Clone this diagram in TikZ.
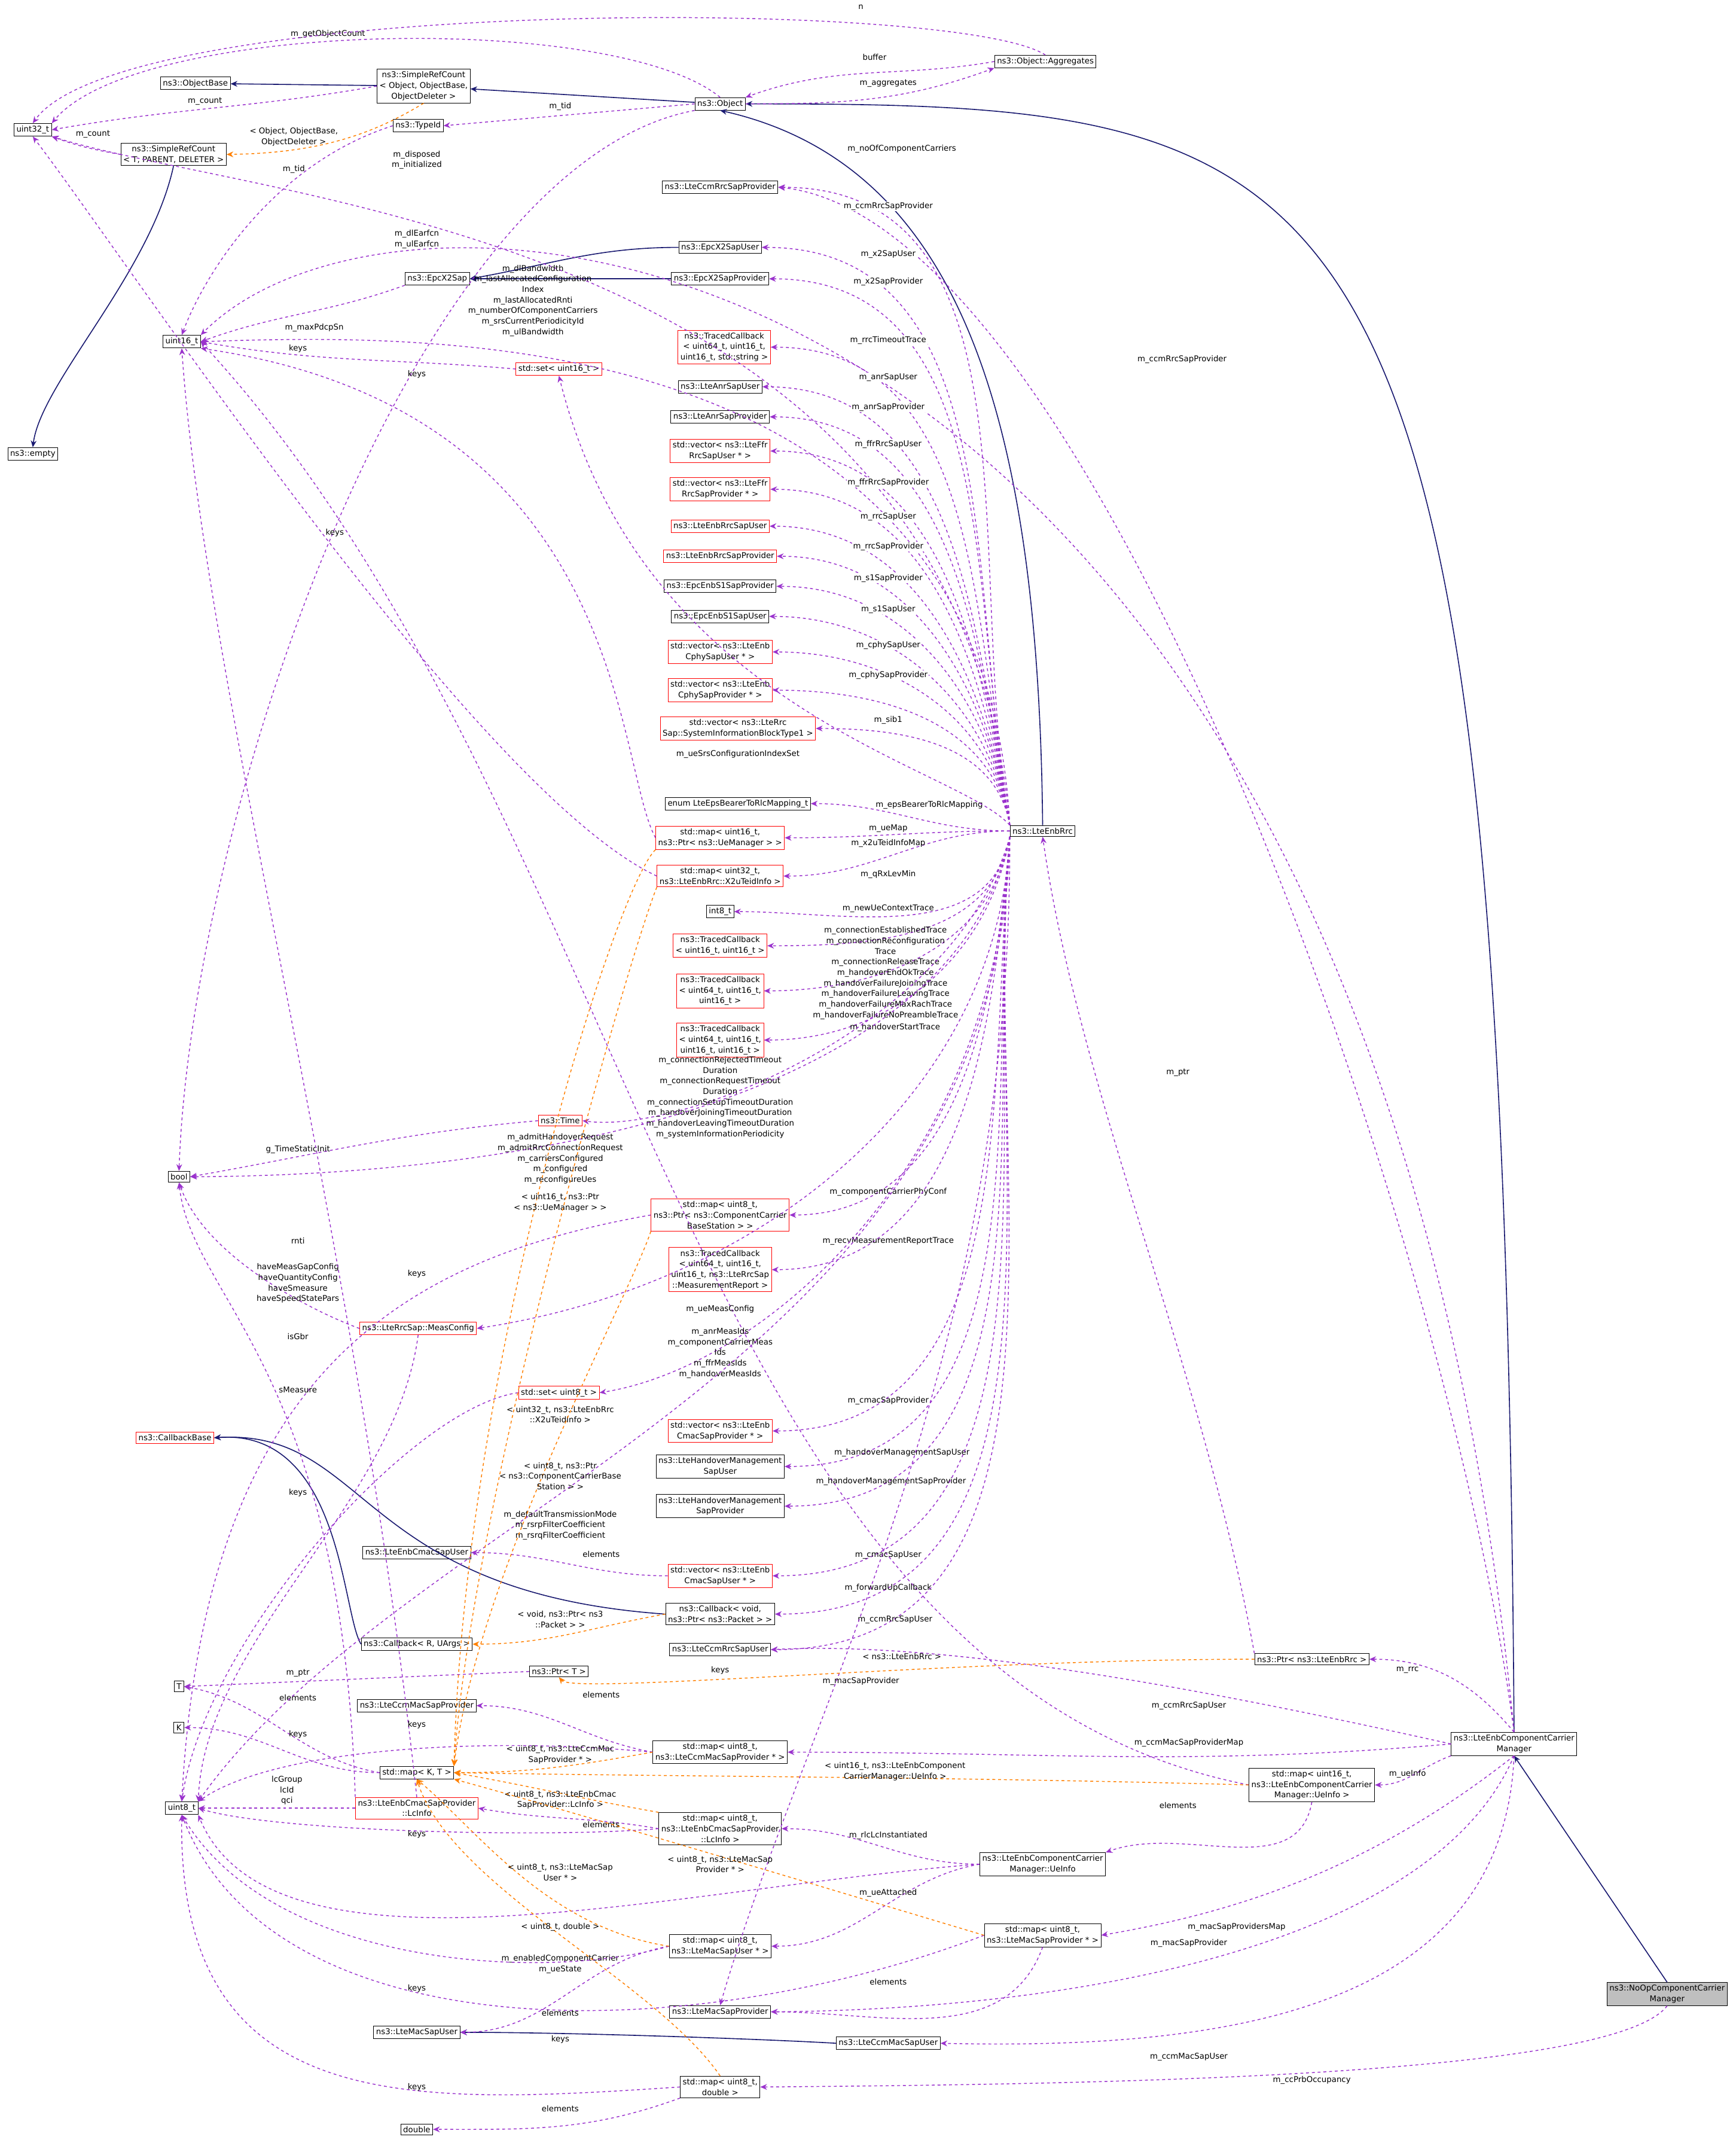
\documentclass[tikz,border=0pt]{standalone}
\usepackage{fontspec}
\setmainfont{DejaVu Sans}
\usetikzlibrary{arrows.meta}
\begin{document}
\begin{tikzpicture}[x=0.05cm,y=-0.05cm,
 every node/.style={font=\fontsize{8.3}{11}\selectfont},
 cls/.style={draw=black,fill=white,inner sep=2.5pt,align=center,line width=0.6pt},
 rcls/.style={cls,draw=red},
 gcls/.style={cls,fill=gray!50},
 lbl/.style={align=center,inner sep=0pt},
 mem/.style={draw={rgb,255:red,154;green,50;blue,205},dashed,line width=0.9pt,-{Stealth[length=7pt,width=6pt]}},
 inh/.style={draw={rgb,255:red,25;green,25;blue,112},line width=1pt,-{Stealth[length=7pt,width=6pt]}},
 tpl/.style={draw=orange,dashed,line width=0.9pt,-{Stealth[length=7pt,width=6pt]}}]
\fill[white] (0,0) rectangle (1270,1568);
\useasboundingbox (0,0) rectangle (1270,1568);
% nodes
\node[cls] (u32) at (24,95) {uint32\_t};
\node[cls] (objbase) at (143,61) {ns3::ObjectBase};
\node[cls] (srcobj) at (310,63) {ns3::SimpleRefCount\\< Object, ObjectBase,\\ObjectDeleter >};
\node[cls] (obj) at (527,76) {ns3::Object};
\node[cls] (aggr) at (765,45) {ns3::Object::Aggregates};
\node[cls] (typeid) at (306,92) {ns3::TypeId};
\node[cls] (srct) at (127,113) {ns3::SimpleRefCount\\< T, PARENT, DELETER >};
\node[cls] (ccmrrcprov) at (527,137) {ns3::LteCcmRrcSapProvider};
\node[cls] (x2user) at (527,181) {ns3::EpcX2SapUser};
\node[cls] (x2prov) at (527,204) {ns3::EpcX2SapProvider};
\node[cls] (x2sap) at (320,204) {ns3::EpcX2Sap};
\node[cls] (u16) at (133,250) {uint16\_t};
\node[rcls] (tcstr) at (530,254) {ns3::TracedCallback\\< uint64\_t, uint16\_t,\\ uint16\_t, std::string >};
\node[rcls] (setu16) at (409,270) {std::set< uint16\_t >};
\node[cls] (anruser) at (527,283) {ns3::LteAnrSapUser};
\node[cls] (anrprov) at (527,305) {ns3::LteAnrSapProvider};
\node[rcls] (ffruser) at (527,330) {std::vector< ns3::LteFfr\\RrcSapUser * >};
\node[rcls] (ffrprov) at (527,358) {std::vector< ns3::LteFfr\\RrcSapProvider * >};
\node[rcls] (rrcuser) at (527,385) {ns3::LteEnbRrcSapUser};
\node[rcls] (rrcprov) at (527,407) {ns3::LteEnbRrcSapProvider};
\node[cls] (s1prov) at (527,429) {ns3::EpcEnbS1SapProvider};
\node[cls] (s1user) at (527,451) {ns3::EpcEnbS1SapUser};
\node[rcls] (cphyuser) at (527,477) {std::vector< ns3::LteEnb\\CphySapUser * >};
\node[rcls] (cphyprov) at (527,505) {std::vector< ns3::LteEnb\\CphySapProvider * >};
\node[rcls] (sib1) at (540,533) {std::vector< ns3::LteRrc\\Sap::SystemInformationBlockType1 >};
\node[cls] (empty) at (24,332) {ns3::empty};
\node[cls] (enumeps) at (540,588) {enum LteEpsBearerToRlcMapping\_t};
\node[rcls] (mapue) at (527,613) {std::map< uint16\_t,\\ ns3::Ptr< ns3::UeManager > >};
\node[rcls] (mapx2) at (527,641) {std::map< uint32\_t,\\ ns3::LteEnbRrc::X2uTeidInfo >};
\node[cls] (i8) at (527,667) {int8\_t};
\node[rcls] (tc2) at (527,692) {ns3::TracedCallback\\< uint16\_t, uint16\_t >};
\node[rcls] (tc3) at (527,725) {ns3::TracedCallback\\< uint64\_t, uint16\_t,\\ uint16\_t >};
\node[rcls] (tc4) at (527,761) {ns3::TracedCallback\\< uint64\_t, uint16\_t,\\ uint16\_t, uint16\_t >};
\node[cls] (rrc) at (763,608) {ns3::LteEnbRrc};
\node[rcls] (time) at (410,820) {ns3::Time};
\node[cls] (bool) at (131,861) {bool};
\node[rcls] (mapcc) at (527,889) {std::map< uint8\_t,\\ ns3::Ptr< ns3::ComponentCarrier\\BaseStation > >};
\node[rcls] (tcmeas) at (527,929) {ns3::TracedCallback\\< uint64\_t, uint16\_t,\\ uint16\_t, ns3::LteRrcSap\\::MeasurementReport >};
\node[rcls] (measconf) at (306,972) {ns3::LteRrcSap::MeasConfig};
\node[rcls] (setu8) at (409,1019) {std::set< uint8\_t >};
\node[rcls] (cbbase) at (128,1052) {ns3::CallbackBase};
\node[rcls] (vcmacprov) at (527,1047) {std::vector< ns3::LteEnb\\CmacSapProvider * >};
\node[cls] (howuser) at (527,1073) {ns3::LteHandoverManagement\\SapUser};
\node[cls] (howprov) at (527,1102) {ns3::LteHandoverManagement\\SapProvider};
\node[cls] (cmacuser) at (305,1136) {ns3::LteEnbCmacSapUser};
\node[rcls] (vcmacuser) at (527,1153) {std::vector< ns3::LteEnb\\CmacSapUser * >};
\node[cls] (cbvoid) at (527,1181) {ns3::Callback< void,\\ ns3::Ptr< ns3::Packet > >};
\node[cls] (cbR) at (305,1203) {ns3::Callback< R, UArgs >};
\node[cls] (ccmrrcuser) at (527,1207) {ns3::LteCcmRrcSapUser};
\node[cls] (ptrrrc) at (960,1214) {ns3::Ptr< ns3::LteEnbRrc >};
\node[cls] (T) at (131,1234) {T};
\node[cls] (ptrT) at (409,1223) {ns3::Ptr< T >};
\node[cls] (ccmmacprov) at (305,1248) {ns3::LteCcmMacSapProvider};
\node[cls] (K) at (131,1264) {K};
\node[cls] (mapccmmac) at (527,1282) {std::map< uint8\_t,\\ ns3::LteCcmMacSapProvider * >};
\node[cls] (ccm) at (1108,1276) {ns3::LteEnbComponentCarrier\\Manager};
\node[cls] (mapKT) at (305,1297) {std::map< K, T >};
\node[cls] (mapueinfo) at (960,1306) {std::map< uint16\_t,\\ ns3::LteEnbComponentCarrier\\Manager::UeInfo >};
\node[cls] (u8) at (133,1323) {uint8\_t};
\node[rcls] (lcinfo) at (305,1323) {ns3::LteEnbCmacSapProvider\\::LcInfo};
\node[cls] (maplc) at (527,1338) {std::map< uint8\_t,\\ ns3::LteEnbCmacSapProvider\\::LcInfo >};
\node[cls] (ueinfo) at (763,1364) {ns3::LteEnbComponentCarrier\\Manager::UeInfo};
\node[cls] (mapmacprov) at (763,1416) {std::map< uint8\_t,\\ ns3::LteMacSapProvider * >};
\node[cls] (mapmacuser) at (527,1424) {std::map< uint8\_t,\\ ns3::LteMacSapUser * >};
\node[cls] (macprov) at (527,1472) {ns3::LteMacSapProvider};
\node[cls] (macuser) at (305,1487) {ns3::LteMacSapUser};
\node[cls] (ccmmacuser) at (650,1495) {ns3::LteCcmMacSapUser};
\node[gcls] (noop) at (1220,1459) {ns3::NoOpComponentCarrier\\Manager};
\node[cls] (mapdbl) at (527,1527) {std::map< uint8\_t,\\ double >};
\node[cls] (dbl) at (305,1558) {double};
% inheritance
\draw[inh] (srcobj) -- (objbase);
\draw[inh] (obj) -- (srcobj);
\draw[inh] (srct.south) .. controls (110,200) and (30,280) .. (empty.north);
\draw[inh] (x2user.west) to[out=180,in=10] (x2sap.east);
\draw[inh] (x2prov) -- (x2sap);
\draw[inh] (rrc.north) .. controls (760,300) and (700,120) .. (obj.south);
\draw[inh] (ccm.north) .. controls (1100,100) and (1000,76) .. (obj.east);
\draw[inh] (noop.north) -- (ccm.south);
\draw[inh] (cbvoid.west) .. controls (260,1165) and (270,1045) .. (cbbase.east);
\draw[inh] (cbR.west) .. controls (250,1180) and (250,1045) .. (cbbase.east);
\draw[inh] (ccmmacuser.west) .. controls (560,1492) and (420,1487) .. (macuser.east);
% misc members
\draw[mem] (obj.north) .. controls (450,8) and (100,15) .. (u32.north east); \node[lbl] at (240,25) {m\_getObjectCount};
\draw[mem] (aggr.north) .. controls (700,-2) and (90,-2) .. (u32.north); \node[lbl] at (630,5) {n};
\draw[mem] (srcobj.west) to[out=190,in=10] (u32.east); \node[lbl] at (150,74) {m\_count};
\draw[mem] (srct.west) to[out=170,in=-20] (u32.south east); \node[lbl] at (68,98) {m\_count};
\draw[mem] (aggr.west) to[out=190,in=20] (obj.north east); \node[lbl] at (640,42) {buffer};
\draw[mem] (obj.east) to[out=0,in=200] (aggr.south west); \node[lbl] at (650,61) {m\_aggregates};
\draw[mem] (obj.west) -- (typeid.east); \node[lbl] at (410,78) {m\_tid};
\draw[mem] (obj.south west) .. controls (300,120) and (140,600) .. (bool.north); \node[lbl] at (305,117) {m\_disposed\\m\_initialized};
\draw[mem] (typeid.west) .. controls (200,120) and (150,200) .. (u16.north); \node[lbl] at (215,124) {m\_tid};
\draw[mem] (x2sap.south west) to[out=200,in=20] (u16.east); \node[lbl] at (230,240) {m\_maxPdcpSn};
\draw[mem] (setu16.west) to[out=175,in=-10] (u16.east); \node[lbl] at (218,255) {keys};
\draw[mem] (mapue.west) .. controls (450,560) and (460,300) .. (u16.south east); \node[lbl] at (305,274) {keys};
\draw[mem] (mapx2.west) .. controls (350,580) and (100,200) .. (u32.south); \node[lbl] at (245,390) {keys};
\draw[mem] (time.west) to[out=185,in=10] (bool.east); \node[lbl] at (218,841) {g\_TimeStaticInit};
\draw[mem] (mapcc.west) .. controls (300,920) and (150,1000) .. (u8.north); \node[lbl] at (305,932) {keys};
\draw[mem] (measconf.west) .. controls (230,960) and (150,920) .. (bool.south); \node[lbl] at (218,939) {haveMeasGapConfig\\haveQuantityConfig\\haveSmeasure\\haveSpeedStatePars};
\draw[mem] (measconf.south) .. controls (290,1100) and (150,1200) .. (u8.north east); \node[lbl] at (218,1017) {sMeasure};
\draw[mem] (setu8.west) .. controls (300,1030) and (150,1200) .. (u8.north); \node[lbl] at (218,1092) {keys};
\draw[mem] (lcinfo.north) .. controls (260,900) and (150,500) .. (u16.south); \node[lbl] at (218,908) {rnti};
\draw[mem] (lcinfo.north west) .. controls (250,1000) and (140,950) .. (bool.south); \node[lbl] at (218,978) {isGbr};
\draw[mem] (lcinfo.west) -- (u8.east); \node[lbl] at (210,1310) {lcGroup\\lcId\\qci};
\draw[mem] (vcmacuser.west) to[out=180,in=0] (cmacuser.east); \node[lbl] at (440,1137) {elements};
\draw[mem] (ptrT.west) -- (T.east); \node[lbl] at (218,1224) {m\_ptr};
\draw[mem] (mapKT.west) to[out=170,in=-10] (T.east); \node[lbl] at (218,1242) {elements};
\draw[mem] (mapKT.west) to[out=180,in=0] (K.east); \node[lbl] at (218,1269) {keys};
\draw[mem] (mapccmmac.west) to[out=170,in=0] (ccmmacprov.east); \node[lbl] at (440,1240) {elements};
\draw[mem] (mapccmmac.west) .. controls (350,1270) and (200,1280) .. (u8.north east); \node[lbl] at (305,1262) {keys};
\draw[mem] (maplc.west) to[out=170,in=-10] (lcinfo.east); \node[lbl] at (440,1335) {elements};
\draw[mem] (maplc.west) .. controls (400,1345) and (200,1340) .. (u8.east); \node[lbl] at (305,1342) {keys};
\draw[mem] (ueinfo.west) to[out=180,in=0] (maplc.east); \node[lbl] at (650,1343) {m\_rlcLcInstantiated};
\draw[mem] (ueinfo.west) to[out=190,in=0] (mapmacuser.east); \node[lbl] at (650,1385) {m\_ueAttached};
\draw[mem] (ueinfo.west) .. controls (500,1380) and (200,1460) .. (u8.south east); \node[lbl] at (410,1437) {m\_enabledComponentCarrier\\m\_ueState};
\draw[mem] (mapueinfo.south) to[out=-100,in=20] (ueinfo.north east); \node[lbl] at (862,1321) {elements};
\draw[mem] (mapueinfo.west) .. controls (500,1225) and (470,600) .. (u16.east); \node[lbl] at (527,1222) {keys};
\draw[mem] (mapmacprov.south) to[out=-110,in=0] (macprov.east); \node[lbl] at (650,1450) {elements};
\draw[mem] (mapmacprov.west) .. controls (500,1500) and (200,1500) .. (u8.south); \node[lbl] at (410,1492) {keys};
\draw[mem] (mapmacuser.west) .. controls (400,1450) and (200,1440) .. (u8.south); \node[lbl] at (305,1455) {keys};
\draw[mem] (mapmacuser.west) to[out=190,in=0] (macuser.east); \node[lbl] at (410,1473) {elements};
\draw[mem] (mapdbl.west) .. controls (300,1540) and (130,1550) .. (u8.south); \node[lbl] at (305,1527) {keys};
\draw[mem] (mapdbl.south west) to[out=200,in=0] (dbl.east); \node[lbl] at (410,1543) {elements};
\draw[mem] (ccm.north) to[out=130,in=0] (ptrrrc.east); \node[lbl] at (1030,1222) {m\_rrc};
\draw[mem] (ccm.west) .. controls (900,1240) and (700,1200) .. (ccmrrcuser.east); \node[lbl] at (870,1248) {m\_ccmRrcSapUser};
\draw[mem] (ccm.west) to[out=185,in=0] (mapccmmac.east); \node[lbl] at (870,1275) {m\_ccmMacSapProviderMap};
\draw[mem] (ccm.south west) to[out=200,in=0] (mapueinfo.east); \node[lbl] at (1030,1298) {m\_ueInfo};
\draw[mem] (ccm.south) .. controls (1000,1370) and (900,1400) .. (mapmacprov.east); \node[lbl] at (905,1410) {m\_macSapProvidersMap};
\draw[mem] (ccm.south) .. controls (1050,1420) and (800,1470) .. (macprov.east); \node[lbl] at (870,1422) {m\_macSapProvider};
\draw[mem] (ccm.south) .. controls (1100,1470) and (900,1500) .. (ccmmacuser.east); \node[lbl] at (870,1505) {m\_ccmMacSapUser};
\draw[mem] (noop.south) .. controls (1180,1520) and (800,1525) .. (mapdbl.east); \node[lbl] at (960,1522) {m\_ccPrbOccupancy};
\draw[mem] (ccm.north) .. controls (1060,900) and (800,160) .. (ccmrrcprov.east); \node[lbl] at (865,263) {m\_ccmRrcSapProvider};
\draw[mem] (ccm.north) .. controls (1000,150) and (300,90) .. (u16.north east); \node[lbl] at (660,109) {m\_noOfComponentCarriers};
\draw[mem] (ptrrrc.north west) .. controls (880,1000) and (790,800) .. (rrc.south); \node[lbl] at (862,785) {m\_ptr};
% rrc members
\draw[mem] (rrc.north west) .. controls (700,170) and (200,150) .. (u32.south east); \node[lbl] at (305,175) {m\_dlEarfcn\\m\_ulEarfcn};
\draw[mem] (rrc.north west) .. controls (720,230) and (300,245) .. (u16.east); \node[lbl] at (390,220) {m\_dlBandwidth\\m\_lastAllocatedConfiguration\\Index\\m\_lastAllocatedRnti\\m\_numberOfComponentCarriers\\m\_srsCurrentPeriodicityId\\m\_ulBandwidth};
\foreach \t/\l/\lx/\ly in {ccmrrcprov/m\_ccmRrcSapProvider/650/151, x2user/m\_x2SapUser/650/186, x2prov/m\_x2SapProvider/650/206, tcstr/m\_rrcTimeoutTrace/650/249, anruser/m\_anrSapUser/650/276, anrprov/m\_anrSapProvider/650/298, ffruser/m\_ffrRrcSapUser/650/325, ffrprov/m\_ffrRrcSapProvider/650/353, rrcuser/m\_rrcSapUser/650/378, rrcprov/m\_rrcSapProvider/650/400, s1prov/m\_s1SapProvider/650/423, s1user/m\_s1SapUser/650/446, cphyuser/m\_cphySapUser/650/472, cphyprov/m\_cphySapProvider/650/494, sib1/m\_sib1/650/527}
 {\draw[mem] (rrc.north west) to[out=100,in=0] (\t.east); \node[lbl,fill=white,inner sep=1pt] at (\lx,\ly) {\l};}
\foreach \t/\l/\lx/\ly in {enumeps/m\_epsBearerToRlcMapping/680/589, mapue/m\_ueMap/650/606, mapx2/m\_x2uTeidInfoMap/650/617}
 {\draw[mem] (rrc.west) to[out=180,in=0] (\t.east); \node[lbl] at (\lx,\ly) {\l};}
\foreach \t/\l/\lx/\ly in {i8/m\_qRxLevMin/650/640, tc2/m\_newUeContextTrace/650/665, tc4/m\_handoverStartTrace/655/752}
 {\draw[mem] (rrc.south west) to[out=-100,in=0] (\t.east); \node[lbl] at (\lx,\ly) {\l};}
\draw[mem] (rrc.north west) .. controls (700,560) and (470,520) .. (setu16.south); \node[lbl] at (540,552) {m\_ueSrsConfigurationIndexSet};
\draw[mem] (rrc.south west) to[out=-100,in=0] (tc3.east); \node[lbl] at (648,712) {m\_connectionEstablishedTrace\\m\_connectionReconfiguration\\Trace\\m\_connectionReleaseTrace\\m\_handoverEndOkTrace\\m\_handoverFailureJoiningTrace\\m\_handoverFailureLeavingTrace\\m\_handoverFailureMaxRachTrace\\m\_handoverFailureNoPreambleTrace};
\draw[mem] (rrc.south west) .. controls (700,750) and (500,830) .. (time.east); \node[lbl] at (527,803) {m\_connectionRejectedTimeout\\Duration\\m\_connectionRequestTimeout\\Duration\\m\_connectionSetupTimeoutDuration\\m\_handoverJoiningTimeoutDuration\\m\_handoverLeavingTimeoutDuration\\m\_systemInformationPeriodicity};
\draw[mem] (rrc.south west) .. controls (700,800) and (400,860) .. (bool.east); \node[lbl] at (410,848) {m\_admitHandoverRequest\\m\_admitRrcConnectionRequest\\m\_carriersConfigured\\m\_configured\\m\_reconfigureUes};
\foreach \t/\l/\lx/\ly in {mapcc/m\_componentCarrierPhyConf/650/872, tcmeas/m\_recvMeasurementReportTrace/650/908, vcmacprov/m\_cmacSapProvider/650/1025, howuser/m\_handoverManagementSapUser/660/1063, howprov/m\_handoverManagementSapProvider/652/1084, vcmacuser/m\_cmacSapUser/650/1138, cbvoid/m\_forwardUpCallback/650/1162, ccmrrcuser/m\_ccmRrcSapUser/655/1185}
 {\draw[mem] (rrc.south west) to[out=-95,in=0] (\t.east); \node[lbl] at (\lx,\ly) {\l};}
\draw[mem] (rrc.south west) .. controls (730,800) and (560,940) .. (measconf.east); \node[lbl] at (527,958) {m\_ueMeasConfig};
\draw[mem] (rrc.south west) .. controls (730,850) and (560,1000) .. (setu8.east); \node[lbl] at (527,990) {m\_anrMeasIds\\m\_componentCarrierMeas\\Ids\\m\_ffrMeasIds\\m\_handoverMeasIds};
\draw[mem] (rrc.south west) .. controls (730,1000) and (300,1100) .. (u8.north east); \node[lbl] at (410,1116) {m\_defaultTransmissionMode\\m\_rsrpFilterCoefficient\\m\_rsrqFilterCoefficient};
\draw[mem] (rrc.south west) .. controls (740,1000) and (590,1250) .. (macprov.north); \node[lbl] at (630,1230) {m\_macSapProvider};
% templates
\draw[tpl] (srcobj.south) .. controls (270,100) and (230,112) .. (srct.east); \node[lbl] at (215,100) {< Object, ObjectBase,\\ObjectDeleter >};
\draw[tpl] (mapue.south west) .. controls (450,650) and (340,1000) .. (mapKT.north east); \node[lbl] at (410,880) {< uint16\_t, ns3::Ptr\\< ns3::UeManager > >};
\draw[tpl] (mapx2.south west) .. controls (460,700) and (345,1100) .. (mapKT.north east); \node[lbl] at (410,1035) {< uint32\_t, ns3::LteEnbRrc\\::X2uTeidInfo >};
\draw[tpl] (mapcc.south west) .. controls (460,950) and (350,1150) .. (mapKT.north east); \node[lbl] at (410,1080) {< uint8\_t, ns3::Ptr\\< ns3::ComponentCarrierBase\\Station > >};
\draw[tpl] (cbvoid.west) to[out=190,in=0] (cbR.east); \node[lbl] at (410,1185) {< void, ns3::Ptr< ns3\\::Packet > >};
\draw[tpl] (ptrrrc.west) .. controls (700,1214) and (420,1240) .. (ptrT.south); \node[lbl] at (660,1212) {< ns3::LteEnbRrc >};
\draw[tpl] (mapccmmac.west) to[out=190,in=0] (mapKT.east); \node[lbl] at (410,1284) {< uint8\_t, ns3::LteCcmMac\\SapProvider * >};
\draw[tpl] (mapueinfo.west) .. controls (700,1300) and (500,1300) .. (mapKT.east); \node[lbl] at (655,1296) {< uint16\_t, ns3::LteEnbComponent\\CarrierManager::UeInfo >};
\draw[tpl] (maplc.north west) to[out=170,in=-10] (mapKT.east); \node[lbl] at (410,1317) {< uint8\_t, ns3::LteEnbCmac\\SapProvider::LcInfo >};
\draw[tpl] (mapmacprov.west) .. controls (600,1380) and (400,1320) .. (mapKT.south east); \node[lbl] at (527,1364) {< uint8\_t, ns3::LteMacSap\\Provider * >};
\draw[tpl] (mapmacuser.west) .. controls (400,1410) and (350,1340) .. (mapKT.south); \node[lbl] at (410,1370) {< uint8\_t, ns3::LteMacSap\\User * >};
\draw[tpl] (mapdbl.north) .. controls (480,1450) and (330,1380) .. (mapKT.south); \node[lbl] at (410,1410) {< uint8\_t, double >};
\end{tikzpicture}
\end{document}
